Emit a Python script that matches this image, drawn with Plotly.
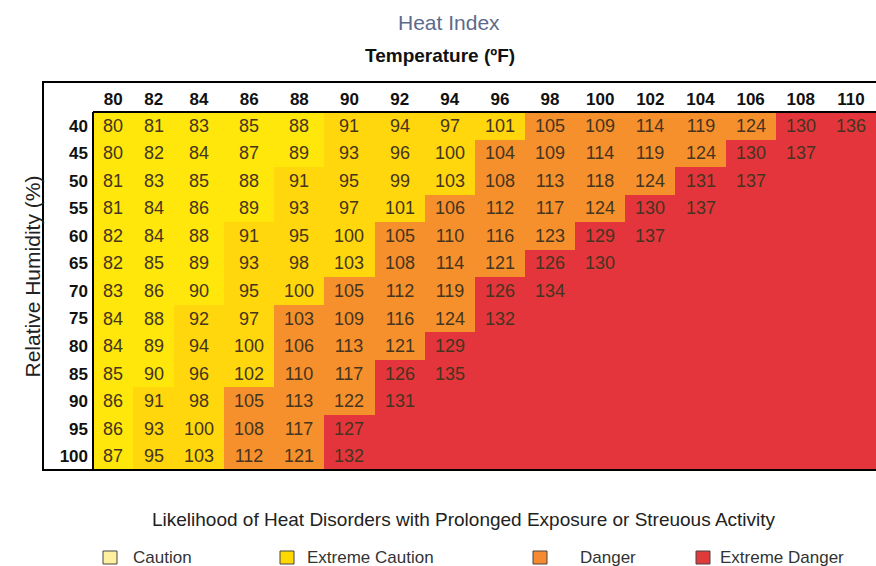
import plotly.graph_objects as go

W, H = 876, 566

temps = [80, 82, 84, 86, 88, 90, 92, 94, 96, 98, 100, 102, 104, 106, 108, 110]
humidity = [40, 45, 50, 55, 60, 65, 70, 75, 80, 85, 90, 95, 100]
heat_index = [
    [80, 81, 83, 85, 88, 91, 94, 97, 101, 105, 109, 114, 119, 124, 130, 136],
    [80, 82, 84, 87, 89, 93, 96, 100, 104, 109, 114, 119, 124, 130, 137],
    [81, 83, 85, 88, 91, 95, 99, 103, 108, 113, 118, 124, 131, 137],
    [81, 84, 86, 89, 93, 97, 101, 106, 112, 117, 124, 130, 137],
    [82, 84, 88, 91, 95, 100, 105, 110, 116, 123, 129, 137],
    [82, 85, 89, 93, 98, 103, 108, 114, 121, 126, 130],
    [83, 86, 90, 95, 100, 105, 112, 119, 126, 134],
    [84, 88, 92, 97, 103, 109, 116, 124, 132],
    [84, 89, 94, 100, 106, 113, 121, 129],
    [85, 90, 96, 102, 110, 117, 126, 135],
    [86, 91, 98, 105, 113, 122, 131],
    [86, 93, 100, 108, 117, 127],
    [87, 95, 103, 112, 121, 132],
]
# column (temperature) at which each humidity row turns Danger / Extreme Danger
danger_from = [98, 96, 96, 94, 92, 92, 90, 88, 88, 88, 86, 86, 86]
extreme_from = [108, 106, 104, 102, 100, 98, 96, 96, 94, 92, 92, 90, 90]
caution_max = 90
categories = ["Caution", "Extreme Caution", "Danger", "Extreme Danger"]

# styles
cat_colors = ["#FFE70C", "#FFD70C", "#F6902C", "#E4353C"]
legend_colors = ["#FFF0A0", "#FFD800", "#F58A30", "#E03A3A"]
col_widths = [40.5, 40.5] + [50.15] * 14

edges = [0.0]
for w in col_widths:
    edges.append(edges[-1] + w)
centers = [(edges[i] + edges[i + 1]) / 2 for i in range(len(temps))]

z, txt = [], []
for r, rh in enumerate(humidity):
    zr, tr = [], []
    for c, t in enumerate(temps):
        v = heat_index[r][c] if c < len(heat_index[r]) else None
        if t >= extreme_from[r]:
            k = 3
        elif t >= danger_from[r]:
            k = 2
        elif v is not None and v <= caution_max:
            k = 0
        else:
            k = 1
        zr.append(k)
        tr.append("" if v is None else str(v))
    z.append(zr)
    txt.append(tr)

cs = []
for i, col in enumerate(cat_colors):
    cs.append([i / 4, col])
    cs.append([(i + 1) / 4, col])

fig = go.Figure()
fig.add_trace(go.Heatmap(
    z=z, x=edges, y=list(range(len(humidity))),
    text=txt, texttemplate="%{text}",
    textfont=dict(family="Liberation Sans, Arial", size=18, color="#45341f"),
    colorscale=cs, zmin=-0.5, zmax=3.5, showscale=False, hoverinfo="skip",
))

def px(x):
    return x / W

def py(y):
    return 1 - y / H

fig.update_layout(
    width=W, height=H,
    margin=dict(l=0, r=0, t=0, b=0),
    paper_bgcolor="white", plot_bgcolor="white",
    showlegend=False,
    font=dict(family="Liberation Sans, Arial", color="#111"),
    xaxis=dict(domain=[px(93), 1], range=[0, edges[-1]], side="top",
               tickvals=centers, ticktext=[str(t) for t in temps],
               tickfont=dict(size=17, color="#111", weight="bold"),
               showgrid=False, zeroline=False, ticks="", ticklabelstandoff=3),
    yaxis=dict(domain=[py(470), py(112)], range=[len(humidity) - 0.5, -0.5],
               tickvals=list(range(len(humidity))), ticktext=[str(h) for h in humidity],
               tickfont=dict(size=17, color="#111", weight="bold"),
               showgrid=False, zeroline=False, ticks="", ticklabelstandoff=4),
)

shapes = [
    dict(type="rect", xref="paper", yref="paper", x0=px(43), x1=1.02, y0=py(470), y1=py(82),
         line=dict(color="black", width=2)),
    dict(type="line", xref="paper", yref="paper", x0=px(93), x1=1.02, y0=py(112), y1=py(112),
         line=dict(color="black", width=2)),
    dict(type="line", xref="paper", yref="paper", x0=px(93), x1=px(93), y0=py(470), y1=py(112),
         line=dict(color="black", width=2)),
]

def ann(text, x, y, size, color, **kw):
    d = dict(text=text, x=px(x), y=py(y), xref="paper", yref="paper", showarrow=False,
             yanchor="middle", font=dict(size=size, color=color))
    d.update(kw)
    return d

annotations = [
    ann("Heat Index", 449, 22, 21, "#5d6a8c"),
    ann("<b>Temperature (ºF)</b>", 440, 55, 19, "#111"),
    ann("Relative Humidity (%)", 19, 277, 21, "#222", textangle=-90),
    ann("Likelihood of Heat Disorders with Prolonged Exposure or Streuous Activity",
        464, 519, 19, "#222"),
]

legend_box_x = [110, 287, 540, 703]
legend_text_x = [131, 305, 578, 718]
for i, name in enumerate(categories):
    bx = legend_box_x[i]
    shapes.append(dict(type="rect", xref="paper", yref="paper",
                       x0=px(bx - 7), x1=px(bx + 7), y0=py(564), y1=py(551),
                       fillcolor=legend_colors[i], line=dict(color="#444", width=1)))
    annotations.append(ann(name, legend_text_x[i], 557, 17, "#333", xanchor="left"))

fig.update_layout(shapes=shapes, annotations=annotations)

fig.write_html("out.html", config={"displayModeBar": False},
               post_script="document.body.style.margin='0';")
